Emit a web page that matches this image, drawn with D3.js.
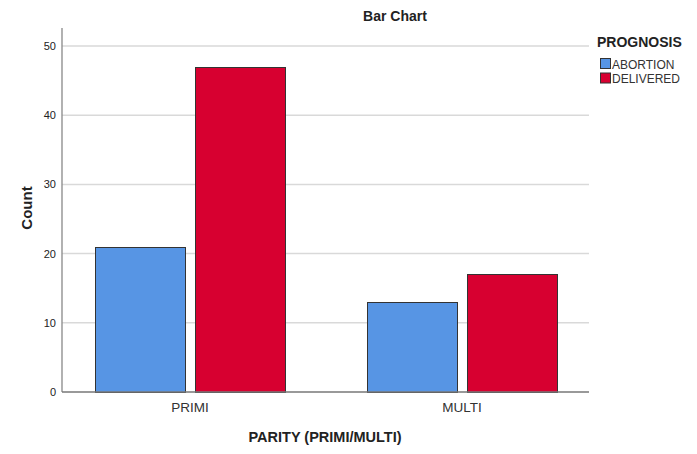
<!DOCTYPE html>
<html>
<head>
<meta charset="utf-8">
<script src="https://cdn.jsdelivr.net/npm/d3@7"></script>
<style>
  body { margin: 0; background: #fff; }
  text { font-family: Arial, "Liberation Sans", sans-serif; }
</style>
</head>
<body>
<div id="canvas"></div>
<script>
const categories = ['PRIMI', 'MULTI'];
const groups = ['ABORTION', 'DELIVERED'];
const abortion = [21, 13];
const delivered = [47, 17];
const yTicks = [0, 10, 20, 30, 40, 50];

const W = 697, H = 454;
const colors = { ABORTION: '#5795e4', DELIVERED: '#d70030' };

const data = categories.map((c, i) => ({
  cat: c,
  vals: [
    { key: 'ABORTION', value: abortion[i] },
    { key: 'DELIVERED', value: delivered[i] }
  ]
}));

const svg = d3.select('#canvas')
    .append('svg')
    .attr('width', W)
    .attr('height', H);

const plotLeft = 62, plotRight = 589, plotTop = 28, plotBottom = 392;

const yScale = d3.scaleLinear()
    .domain([0, 50])
    .range([plotBottom, 46]);

const xScale = d3.scaleBand()
    .domain(categories)
    .range([54, 598]);

const inner = d3.scaleBand()
    .domain(groups)
    .range([(xScale.bandwidth() - 190) / 2, (xScale.bandwidth() + 190) / 2])
    .paddingInner(0.1);

// grid lines
svg.append('g')
  .selectAll('line')
  .data(yTicks.slice(1))
  .enter()
  .append('line')
  .attr('x1', plotLeft)
  .attr('x2', plotRight)
  .attr('y1', d => yScale(d))
  .attr('y2', d => yScale(d))
  .attr('stroke', '#d9d9d9')
  .attr('stroke-width', 1.5);

// bars
const cat = svg.selectAll('.cat')
    .data(data)
    .enter()
    .append('g')
    .attr('transform', d => `translate(${xScale(d.cat)},0)`);

cat.selectAll('rect')
    .data(d => d.vals)
    .enter()
    .append('rect')
    .attr('x', d => inner(d.key) + 0.5)
    .attr('y', d => Math.round(yScale(d.value)) + 0.5)
    .attr('width', inner.bandwidth())
    .attr('height', d => plotBottom - Math.round(yScale(d.value)))
    .attr('fill', d => colors[d.key])
    .attr('stroke', '#333')
    .attr('stroke-width', 1);

// axes
const yAxis = d3.axisLeft(yScale)
    .tickValues(yTicks)
    .tickSize(0)
    .tickPadding(6);

const yG = svg.append('g')
    .attr('transform', `translate(${plotLeft},0)`)
    .call(yAxis);
yG.select('.domain').remove();
yG.selectAll('text').attr('font-size', 11).attr('fill', '#222');

svg.append('line')
  .attr('x1', plotLeft).attr('x2', plotLeft)
  .attr('y1', plotTop).attr('y2', plotBottom)
  .attr('stroke', '#888').attr('stroke-width', 1.3);

svg.append('line')
  .attr('x1', plotLeft).attr('x2', plotRight)
  .attr('y1', plotBottom).attr('y2', plotBottom)
  .attr('stroke', '#777').attr('stroke-width', 1.3);

const xAxis = d3.axisBottom(xScale).tickSize(0).tickPadding(10);
const xG = svg.append('g')
    .attr('transform', `translate(0,${plotBottom})`)
    .call(xAxis);
xG.select('.domain').remove();
xG.selectAll('text').attr('font-size', 13.5).attr('fill', '#333');

// titles
svg.append('text')
  .text('Bar Chart')
  .attr('x', 395)
  .attr('y', 21)
  .attr('text-anchor', 'middle')
  .attr('font-size', 14)
  .attr('font-weight', 'bold')
  .attr('fill', '#222');

svg.append('text')
  .text('Count')
  .attr('transform', `translate(32, 208) rotate(-90)`)
  .attr('text-anchor', 'middle')
  .attr('font-size', 15)
  .attr('font-weight', 'bold')
  .attr('fill', '#222');

svg.append('text')
  .text('PARITY (PRIMI/MULTI)')
  .attr('x', 325)
  .attr('y', 442)
  .attr('text-anchor', 'middle')
  .attr('font-size', 14.5)
  .attr('font-weight', 'bold')
  .attr('fill', '#222');

// legend
const legend = svg.append('g')
    .attr('transform', 'translate(597, 0)');

legend.append('text')
  .text('PROGNOSIS')
  .attr('x', 0)
  .attr('y', 47)
  .attr('font-size', 14)
  .attr('font-weight', 'bold')
  .attr('fill', '#222');

const item = legend.selectAll('.item')
    .data(groups)
    .enter()
    .append('g')
    .attr('transform', (d, i) => `translate(3, ${58 + i * 14.5})`);

item.append('rect')
  .attr('x', 0.5).attr('y', 0.5)
  .attr('width', 10).attr('height', 10)
  .attr('fill', d => colors[d])
  .attr('stroke', '#333');

item.append('text')
  .text(d => d)
  .attr('x', 12)
  .attr('y', 10.5)
  .attr('font-size', 12)
  .attr('fill', '#333');
</script>
</body>
</html>
